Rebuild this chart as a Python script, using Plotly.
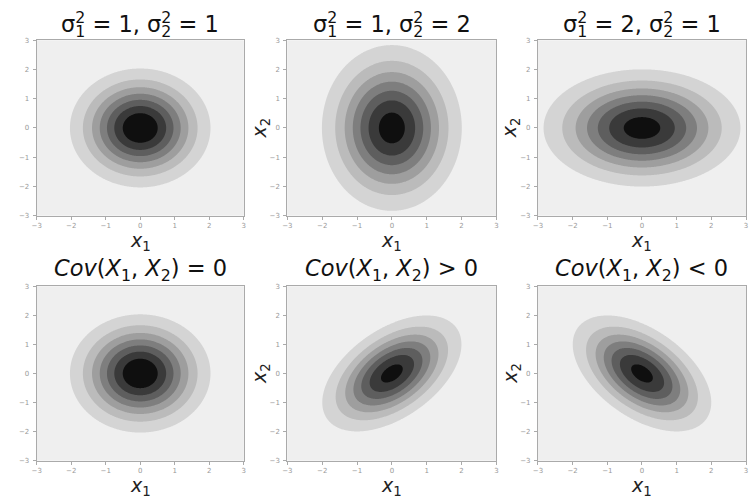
import numpy as np
import plotly.graph_objects as go

# ---------------- data ----------------
SUB1 = "<sub><span style='letter-spacing:-0.64em'>1</span></sub><sup>2</sup>"
SUB2 = "<sub><span style='letter-spacing:-0.64em'>2</span></sub><sup>2</sup>"
panel_titles = [
    "σ" + SUB1 + " = 1, σ" + SUB2 + " = 1",
    "σ" + SUB1 + " = 1, σ" + SUB2 + " = 2",
    "σ" + SUB1 + " = 2, σ" + SUB2 + " = 1",
    "<i>Cov</i>(<i>X</i><sub>1</sub>, <i>X</i><sub>2</sub>) = 0",
    "<i>Cov</i>(<i>X</i><sub>1</sub>, <i>X</i><sub>2</sub>) &gt; 0",
    "<i>Cov</i>(<i>X</i><sub>1</sub>, <i>X</i><sub>2</sub>) &lt; 0",
]
var_x1 = [1.0, 1.0, 2.0, 1.0, 1.0, 1.0]
var_x2 = [1.0, 2.0, 1.0, 1.0, 1.0, 1.0]
cov_x1x2 = [0.0, 0.0, 0.0, 0.0, 0.5, -0.5]
level_step = [0.02, 0.015, 0.015, 0.02, 0.025, 0.025]
n_levels = 7
tick_values = [-3, -2, -1, 0, 1, 2, 3]
show_ylabel = [False, True, True, False, True, True]
band_colors = ["#efefef", "#d4d4d4", "#bbbbbb", "#9e9e9e",
               "#7e7e7e", "#5e5e5e", "#3a3a3a", "#0f0f0f"]

# ---------------- layout geometry (pixels) ----------------
W, H = 750, 498
col_px = [(32, 241), (285, 496), (538, 748)]
row_px = [(37, 215), (287, 464)]
title_px = [19, 270]

FONT = "DejaVu Sans"
grid = np.linspace(-3, 3, 301)
GX, GY = np.meshgrid(grid, grid)

colorscale = [[i / (len(band_colors) - 1), c] for i, c in enumerate(band_colors)]

fig = go.Figure()
annotations = []
for k in range(6):
    r, c = divmod(k, 3)
    ax = "" if k == 0 else str(k + 1)
    s11, s22, s12 = var_x1[k], var_x2[k], cov_x1x2[k]
    det = s11 * s22 - s12 ** 2
    q = (s22 * GX ** 2 - 2 * s12 * GX * GY + s11 * GY ** 2) / det
    z = np.exp(-0.5 * q) / (2 * np.pi * np.sqrt(det))
    st = level_step[k]
    fig.add_trace(go.Contour(
        x=grid, y=grid, z=z,
        xaxis="x" + ax, yaxis="y" + ax,
        colorscale=colorscale, showscale=False,
        contours=dict(start=st, end=st * n_levels, size=st, coloring="fill"),
        line=dict(width=0), hoverinfo="skip",
    ))
    x0, x1 = col_px[c]
    y0, y1 = row_px[r]
    dx = [x0 / W, x1 / W]
    dy = [1 - y1 / H, 1 - y0 / H]
    axcommon = dict(range=[-3, 3], tickvals=tick_values, ticks="outside", ticklen=3,
                    tickcolor="#aaaaaa", tickwidth=1, showline=True, linecolor="#aaaaaa",
                    linewidth=1, mirror=True, showgrid=False, zeroline=False,
                    tickfont=dict(family=FONT, size=7, color="#999999"))
    fig.update_layout(**{
        "xaxis" + ax: dict(domain=dx, anchor="y" + ax, **axcommon),
        "yaxis" + ax: dict(domain=dy, anchor="x" + ax, ticklabelstandoff=2, **axcommon),
    })
    xc = (dx[0] + dx[1]) / 2
    # title
    ty = title_px[r]
    annotations.append(dict(text=panel_titles[k], x=xc, y=1 - ty / H, xref="paper", yref="paper",
                            xanchor="center", yanchor="middle", showarrow=False, borderpad=0,
                            font=dict(family=FONT, size=22.5, color="#111111")))
    # x label
    ly = y1 + 26
    annotations.append(dict(text="<i>x</i><sub>1</sub>", x=xc, y=1 - ly / H, xref="paper", yref="paper",
                            xanchor="center", yanchor="middle", showarrow=False, borderpad=0,
                            font=dict(family=FONT, size=19, color="#222222")))
    if show_ylabel[k]:
        lx = x0 - 27
        yc = 1 - (y0 + y1) / 2 / H
        annotations.append(dict(text="<i>x</i><sub>2</sub>", x=lx / W, y=yc, xref="paper", yref="paper",
                                xanchor="center", yanchor="middle", textangle=-90, showarrow=False,
                                borderpad=0, font=dict(family=FONT, size=19, color="#222222")))

fig.update_layout(
    width=W, height=H, margin=dict(l=0, r=0, t=0, b=0),
    paper_bgcolor="white", plot_bgcolor=band_colors[0],
    annotations=annotations, showlegend=False,
)
fig.write_html("out.html")
